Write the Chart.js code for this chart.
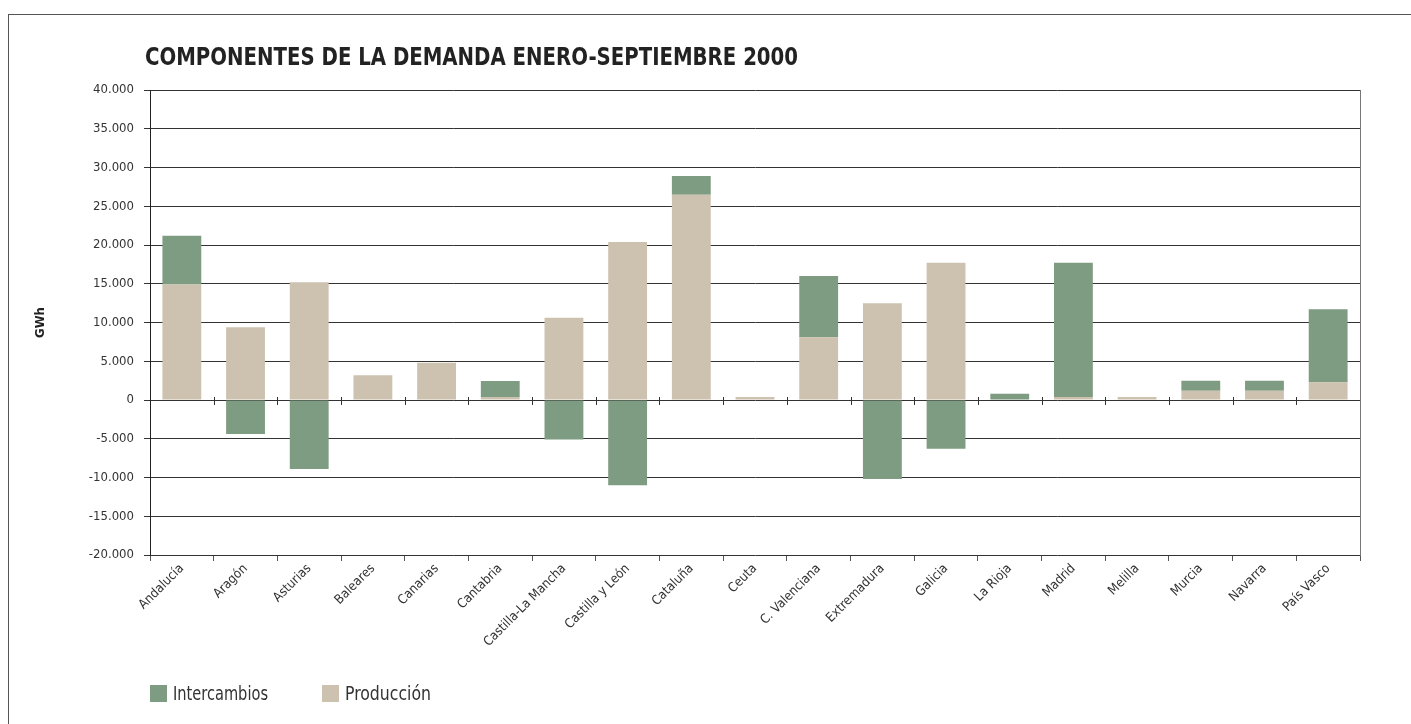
<!DOCTYPE html>
<html lang="es">
<head>
<meta charset="utf-8">
<title>Componentes de la demanda enero-septiembre 2000</title>
<script src="https://cdn.jsdelivr.net/npm/chart.js@4.4.1/dist/chart.umd.min.js"></script>
<style>
  html, body { margin: 0; padding: 0; background: #fff; }
  #wrap { position: relative; width: 1411px; height: 724px; overflow: hidden; }
  #frame { position: absolute; left: 8px; top: 14px; width: 1500px; height: 800px;
           border-top: 1px solid #555; border-left: 1px solid #555; }
  #chart { position: absolute; left: 0; top: 0; }
  .narrow { font-family: 'Liberation Sans Narrow', 'DejaVu Sans Condensed', 'Roboto', sans-serif;
            position: absolute; white-space: nowrap; transform-origin: 0 50%; line-height: 1; }
  #titulo { left: 145px; top: 44px; font-size: 25px; font-weight: bold; color: #222; }
  .sw { position: absolute; width: 17px; height: 17px; top: 685px; }
  .lt { font-size: 19px; color: #333; top: 684px; }
</style>
</head>
<body>
<div id="wrap">
  <div id="frame"></div>
  <canvas id="chart" width="1411" height="724"></canvas>
  <div id="titulo" class="narrow">COMPONENTES DE LA DEMANDA ENERO-SEPTIEMBRE 2000</div>
</div>
<script>
// Regions (comunidades autónomas)
const regiones = ['Andalucía', 'Aragón', 'Asturias', 'Baleares', 'Canarias', 'Cantabria',
  'Castilla-La Mancha', 'Castilla y León', 'Cataluña', 'Ceuta', 'C. Valenciana', 'Extremadura',
  'Galicia', 'La Rioja', 'Madrid', 'Melilla', 'Murcia', 'Navarra', 'País Vasco'];

// GWh
const produccion = [14900, 9400, 15200, 3200, 4800, 400, 10600, 20400, 26500, 400, 8100, 12500,
  17700, 0, 400, 400, 1200, 1200, 2300];
const intercambios = [6300, -4400, -8900, 0, 0, 2050, -5100, -11000, 2400, 0, 7900, -10200,
  -6300, 800, 17300, 0, 1300, 1300, 9400];

const yTicks = [-20000, -15000, -10000, -5000, 0, 5000, 10000, 15000, 20000, 25000, 30000, 35000, 40000];

const COLOR_INTERCAMBIOS = '#7d9c81';
const COLOR_PRODUCCION = '#cdc2af';
const FONT = "'Liberation Sans Narrow', 'DejaVu Sans Condensed', 'Roboto', sans-serif";

function miles(v) {
  const s = Math.abs(v).toString().replace(/\B(?=(\d{3})+(?!\d))/g, '.');
  return (v < 0 ? '-' : '') + s;
}

// squeeze a text element horizontally to a given width
function fitWidth(el, w) {
  const natural = el.getBoundingClientRect().width;
  if (natural > 0) el.style.transform = 'scaleX(' + (w / natural) + ')';
}

// short category ticks along the zero line
const zeroTicks = {
  id: 'zeroTicks',
  afterDatasetsDraw(chart) {
    const x = chart.scales.x, y = chart.scales.y;
    const y0 = Math.round(y.getPixelForValue(0));
    const ctx = chart.ctx;
    ctx.save();
    ctx.strokeStyle = '#333';
    ctx.lineWidth = 1;
    ctx.beginPath();
    for (let i = 1; i < regiones.length; i++) {
      const px = Math.round((x.getPixelForValue(i - 1) + x.getPixelForValue(i)) / 2) + 0.5;
      ctx.moveTo(px, y0 - 3);
      ctx.lineTo(px, y0 + 5);
    }
    ctx.stroke();
    ctx.restore();
  }
};

const chart = new Chart(document.getElementById('chart'), {
  type: 'bar',
  data: {
    labels: regiones,
    datasets: [
      { label: 'Producción', data: produccion, backgroundColor: COLOR_PRODUCCION, stack: 's' },
      { label: 'Intercambios', data: intercambios, backgroundColor: COLOR_INTERCAMBIOS, stack: 's' }
    ]
  },
  options: {
    responsive: false,
    animation: false,
    layout: { padding: { left: 8, right: 51, top: 90, bottom: 0 } },
    datasets: { bar: { categoryPercentage: 1, barPercentage: 0.61 } },
    plugins: {
      legend: { display: false },
      tooltip: { enabled: false },
      title: { display: false }
    },
    scales: {
      x: {
        stacked: true,
        grid: { display: true, drawOnChartArea: false, offset: true, tickLength: 6, color: '#555' },
        border: { display: false },
        ticks: { color: '#333', font: { family: FONT, size: 13 }, minRotation: 45, maxRotation: 45,
                 autoSkip: false, padding: 0 },
        afterFit(s) { s.height = 169; }
      },
      y: {
        stacked: true,
        min: -20000, max: 40000,
        afterBuildTicks(s) { s.ticks = yTicks.map(v => ({ value: v })); },
        grid: { color: '#333', lineWidth: 1, tickLength: 6, drawTicks: true },
        border: { display: true, color: '#222' },
        ticks: { color: '#333', font: { family: FONT, size: 13 }, padding: 10, callback: v => miles(v) },
        title: { display: true, text: 'GWh', color: '#222', font: { family: FONT, size: 13, weight: 'bold' },
                 padding: { top: 25, bottom: 0 } },
        afterFit(s) { s.width = 142; }
      },
      y2: {
        position: 'right',
        min: -20000, max: 40000,
        grid: { drawOnChartArea: false, drawTicks: false },
        border: { display: true, color: '#777' },
        ticks: { display: false },
        afterFit(s) { s.width = 0; }
      }
    }
  },
  plugins: [zeroTicks]
});

fitWidth(document.getElementById('titulo'), 653);

// legend: Intercambios first, then Producción
const wrap = document.getElementById('wrap');
const legendItems = [
  { ds: chart.data.datasets[1], x: 150, textWidth: 95 },
  { ds: chart.data.datasets[0], x: 322, textWidth: 86 }
];
legendItems.forEach(it => {
  const sw = document.createElement('div');
  sw.className = 'sw';
  sw.style.left = it.x + 'px';
  sw.style.background = it.ds.backgroundColor;
  wrap.appendChild(sw);
  const tx = document.createElement('div');
  tx.className = 'narrow lt';
  tx.style.left = (it.x + 23) + 'px';
  tx.textContent = it.ds.label;
  wrap.appendChild(tx);
  fitWidth(tx, it.textWidth);
});
</script>
</body>
</html>
